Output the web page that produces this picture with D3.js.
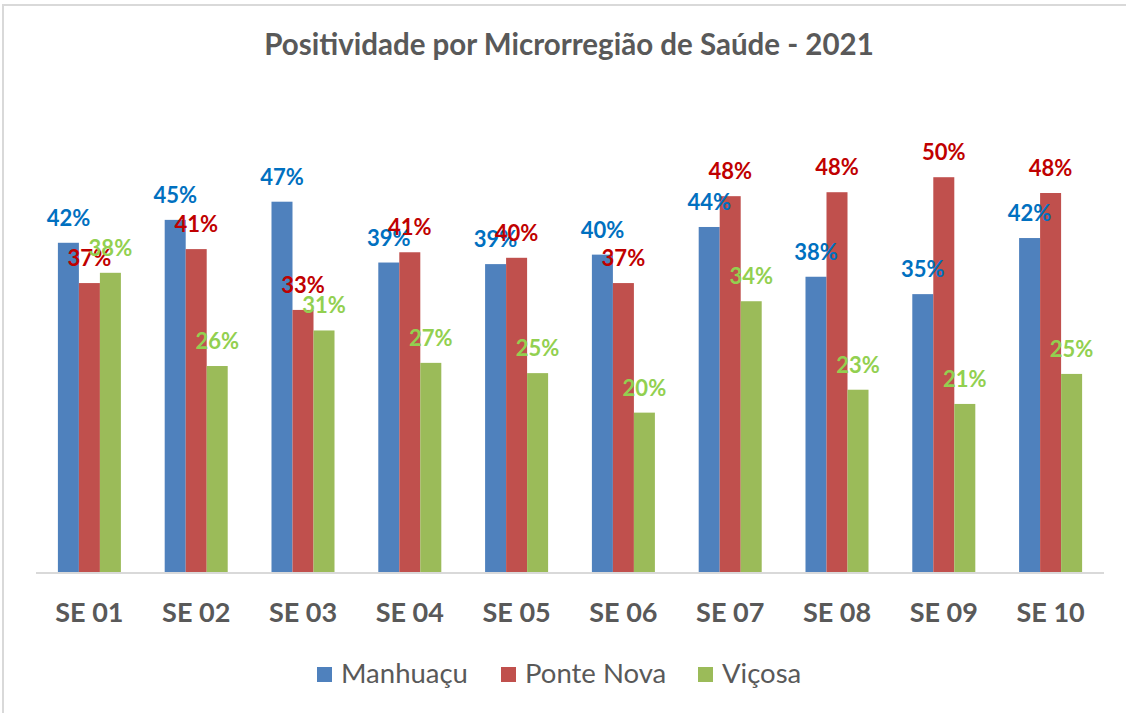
<!DOCTYPE html>
<html lang="pt">
<head>
    <meta charset="UTF-8">
    <title>Positividade por Microrregião de Saúde - 2021</title>
    <script src="https://d3js.org/d3.v7.min.js"></script>
    <style>
        html, body { margin: 0; padding: 0; background: #fff; }
        svg { display: block; font-family: 'Lato', 'Open Sans', sans-serif; }
    </style>
</head>
<body>
    <div id="chart"></div>

    <script>
        // --- Data ---
        const categories = ["SE 01", "SE 02", "SE 03", "SE 04", "SE 05", "SE 06", "SE 07", "SE 08", "SE 09", "SE 10"];
        const seriesNames = ["Manhuaçu", "Ponte Nova", "Viçosa"];
        const manhuacu  = [0.418, 0.447, 0.470, 0.393, 0.391, 0.403, 0.438, 0.375, 0.353, 0.424];
        const ponteNova = [0.367, 0.410, 0.333, 0.406, 0.399, 0.367, 0.477, 0.482, 0.501, 0.481];
        const vicosa    = [0.380, 0.262, 0.307, 0.266, 0.253, 0.203, 0.344, 0.232, 0.214, 0.252];

        const barColors   = ["#4F81BD", "#C0504D", "#9BBB59"];
        const labelColors = ["#0070C0", "#C00000", "#92D050"];

        const width = 1126, height = 713;
        const plot = { left: 36, right: 1104, top: 99, bottom: 573 };

        const svg = d3.select("#chart").append("svg")
            .attr("width", width)
            .attr("height", height);

        // chart frame (only top and left edges show in the picture)
        svg.append("path")
            .attr("d", `M3,${height} V5 H${width}`)
            .attr("fill", "none")
            .attr("stroke", "#d9d9d9")
            .attr("stroke-width", 2);

        svg.append("text")
            .attr("x", 569)
            .attr("y", 55)
            .attr("text-anchor", "middle")
            .attr("fill", "#595959")
            .attr("font-weight", 700)
            .attr("font-size", 29.5)
            .text("Positividade por Microrregião de Saúde - 2021");

        const x0 = d3.scaleBand()
            .domain(categories)
            .range([plot.left, plot.right])
            .paddingInner(0.41)
            .paddingOuter(0.205);

        const x1 = d3.scaleBand()
            .domain(seriesNames)
            .range([0, x0.bandwidth()]);

        const y = d3.scaleLinear()
            .domain([0, 0.6])
            .range([plot.bottom, plot.top]);

        const rows = categories.map((c, i) => ({
            cat: c,
            values: [manhuacu[i], ponteNova[i], vicosa[i]].map((v, s) => ({ series: seriesNames[s], s, v }))
        }));

        const groups = svg.append("g")
            .selectAll("g")
            .data(rows)
            .join("g")
            .attr("transform", d => `translate(${x0(d.cat)},0)`);

        groups.selectAll("rect")
            .data(d => d.values)
            .join("rect")
            .attr("x", d => x1(d.series))
            .attr("y", d => y(d.v))
            .attr("width", x1.bandwidth())
            .attr("height", d => y(0) - y(d.v))
            .attr("fill", d => barColors[d.s]);

        // baseline
        svg.append("line")
            .attr("x1", plot.left).attr("x2", plot.right)
            .attr("y1", y(0)).attr("y2", y(0))
            .attr("stroke", "#d9d9d9")
            .attr("stroke-width", 2);

        // x axis labels
        const xAxis = svg.append("g")
            .attr("transform", `translate(0,${y(0)})`)
            .call(d3.axisBottom(x0).tickSize(0).tickPadding(30));
        xAxis.select(".domain").remove();
        xAxis.selectAll("text")
            .attr("fill", "#595959")
            .attr("font-family", "Lato, 'Open Sans', sans-serif")
            .attr("font-weight", 700)
            .attr("font-size", 27);

        // data labels
        const fmt = d3.format(".0%");
        groups.selectAll("text.val")
            .data(d => d.values)
            .join("text")
            .attr("class", "val")
            .attr("x", d => x1(d.series) + x1.bandwidth() / 2)
            .attr("y", d => y(d.v) - 17)
            .attr("text-anchor", "middle")
            .attr("fill", d => labelColors[d.s])
            .attr("font-weight", 700)
            .attr("font-size", 22)
            .text(d => fmt(d.v));

        // legend
        const legendX = [317, 501, 698];
        const legend = svg.append("g")
            .selectAll("g")
            .data(seriesNames)
            .join("g")
            .attr("transform", (d, i) => `translate(${legendX[i]},667)`);

        legend.append("rect")
            .attr("width", 15)
            .attr("height", 15)
            .attr("fill", (d, i) => barColors[i]);

        legend.append("text")
            .attr("x", 24)
            .attr("y", 16)
            .attr("fill", "#595959")
            .attr("font-size", 27.5)
            .text(d => d);
    </script>
</body>
</html>
